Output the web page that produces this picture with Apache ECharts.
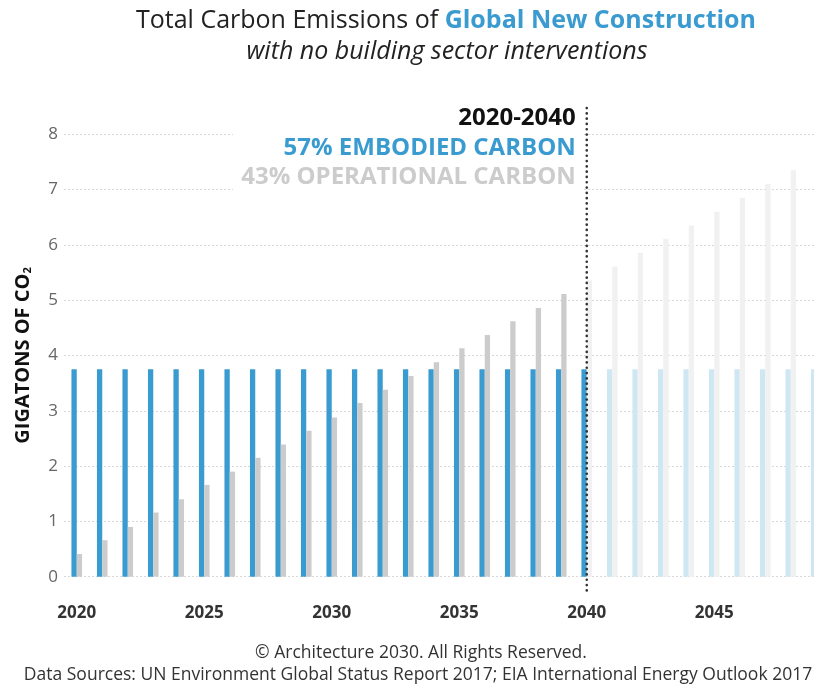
<!DOCTYPE html>
<html><head><meta charset="utf-8">
<script src="https://cdn.jsdelivr.net/npm/echarts@6/dist/echarts.min.js"></script>
<style>html,body{margin:0;padding:0;background:#fff;overflow:hidden}#c{width:829px;height:685px}</style>
</head><body><div id="c"></div>
<script>
const years = ['2020','2021','2022','2023','2024','2025','2026','2027','2028','2029','2030','2031','2032','2033','2034','2035','2036','2037','2038','2039','2040','2041','2042','2043','2044','2045','2046','2047','2048','2049'];
const embodied = [3.75,3.75,3.75,3.75,3.75,3.75,3.75,3.75,3.75,3.75,3.75,3.75,3.75,3.75,3.75,3.75,3.75,3.75,3.75,3.75,3.75,3.75,3.75,3.75,3.75,3.75,3.75,3.75,3.75,3.75];
const operational = [0.41,0.66,0.90,1.16,1.40,1.66,1.90,2.15,2.39,2.64,2.88,3.14,3.38,3.63,3.88,4.13,4.37,4.62,4.86,5.11,5.36,5.61,5.86,6.11,6.35,6.60,6.85,7.10,7.35,7.59];
const yTicks = [0,1,2,3,4,5,6,7,8];
const splitYear = '2040';

const FONT = '"Open Sans", "Noto Sans", sans-serif';
const BLUE = '#3a9bd0', BLUE_L = '#cfe6f3', GREY = '#cccccc', GREY_L = '#f1f1f1';
const splitIdx = years.indexOf(splitYear);

const chart = echarts.init(document.getElementById('c'));
chart.setOption({
  animation: false,
  textStyle: { fontFamily: FONT },
  grid: { left: 64, right: 0, top: 134.3, bottom: 108.3 },
  xAxis: {
    type: 'category', data: years, boundaryGap: true,
    axisLine: { show: false }, axisTick: { show: false },
    axisLabel: { interval: 4, margin: 28, fontSize: 17, fontWeight: 'bold', color: '#333', fontFamily: FONT }
  },
  yAxis: {
    type: 'value', min: yTicks[0], max: yTicks[yTicks.length-1], interval: 1,
    name: '{m|GIGATONS OF CO}{s|2}', nameLocation: 'middle', nameGap: 31, nameRotate: 90,
    nameTextStyle: { rich: {
      m: { fontSize: 20, fontWeight: 'bold', color: '#111', fontFamily: FONT },
      s: { fontSize: 11, fontWeight: 'bold', color: '#111', fontFamily: FONT, verticalAlign: 'bottom', padding: [9,0,0,0] }
    }},
    axisLine: { show: false }, axisTick: { show: false },
    axisLabel: { fontSize: 17, color: '#666', margin: 6, fontFamily: FONT },
    splitLine: { lineStyle: { type: [2, 2], color: '#d8d8d8', width: 1 } }
  },
  series: [
    { name: 'Embodied', type: 'bar', data: embodied, barWidth: 5.3, barGap: '0%',
      itemStyle: { color: p => p.dataIndex > splitIdx ? BLUE_L : BLUE } },
    { name: 'Operational', type: 'bar', data: operational, barWidth: 5.3,
      itemStyle: { color: p => p.dataIndex >= splitIdx ? GREY_L : GREY } }
  ]
});

const lx = chart.convertToPixel({ xAxisIndex: 0 }, splitYear);
const y0 = chart.convertToPixel({ yAxisIndex: 0 }, 0);
const tx = lx - 11;
chart.setOption({
  graphic: [
    { type: 'rect', z: 50, shape: { x: 233, y: 100, width: lx - 236, height: 95 }, style: { fill: '#fff' } },
    { type: 'line', z: 60, shape: { x1: lx, y1: 108, x2: lx, y2: y0 + 16 },
      style: { stroke: '#333', lineWidth: 2.6, lineDash: [0.1, 5.2], lineCap: 'round' } },
    { type: 'text', z: 60, x: tx, y: 118, style: { text: '2020-2040', fill: '#111', font: 'bold 24px ' + FONT, textAlign: 'right', textVerticalAlign: 'middle' } },
    { type: 'text', z: 60, x: tx, y: 148, style: { text: '57% EMBODIED CARBON', fill: BLUE, font: 'bold 24px ' + FONT, textAlign: 'right', textVerticalAlign: 'middle' } },
    { type: 'text', z: 60, x: tx, y: 177, style: { text: '43% OPERATIONAL CARBON', fill: '#cccccc', font: 'bold 24px ' + FONT, textAlign: 'right', textVerticalAlign: 'middle' } },
    { type: 'text', z: 60, x: 446, y: 21, style: {
      text: '{a|Total Carbon Emissions of }{b|Global New Construction}', textAlign: 'center', textVerticalAlign: 'middle',
      rich: { a: { fontSize: 25, fill: '#222', fontFamily: FONT }, b: { fontSize: 25, fontWeight: 'bold', fill: BLUE, fontFamily: FONT } } } },
    { type: 'text', z: 60, x: 447, y: 52, style: { text: 'with no building sector interventions', fill: '#222', font: 'italic 25px ' + FONT, textAlign: 'center', textVerticalAlign: 'middle' } },
    { type: 'text', z: 60, x: 421, y: 653, style: { text: '© Architecture 2030. All Rights Reserved.', fill: '#333', font: '17.5px ' + FONT, textAlign: 'center', textVerticalAlign: 'middle' } },
    { type: 'text', z: 60, x: 418, y: 675, style: { text: 'Data Sources: UN Environment Global Status Report 2017; EIA International Energy Outlook 2017', fill: '#333', font: '17.5px ' + FONT, textAlign: 'center', textVerticalAlign: 'middle' } }
  ]
});
</script></body></html>
